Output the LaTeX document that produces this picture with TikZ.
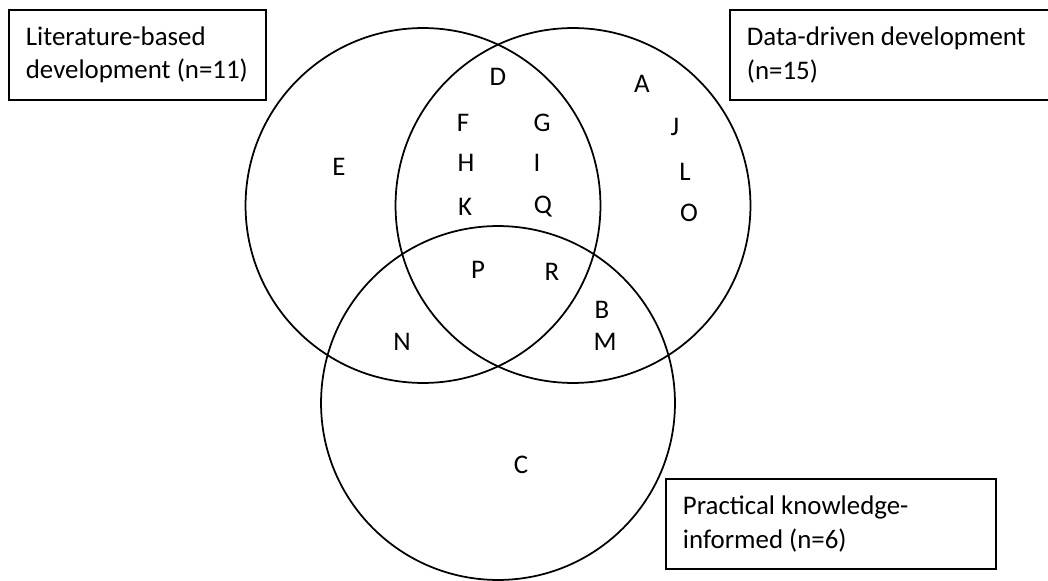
\documentclass[tikz,border=0pt]{standalone}
\usepackage{fontspec}
\setmainfont{Carlito}
\usepackage{tikz}

\begin{document}
\begin{tikzpicture}[x=0.02cm, y=-0.02cm, line width=1pt,
    letter/.style={font=\fontsize{15.3}{19}\selectfont},
    group/.style={draw, anchor=north west, align=flush left, inner xsep=0.34cm,
        minimum height=1.8cm, font=\fontsize{15.3}{19}\selectfont}]
    \useasboundingbox (0,0) rectangle (1048,581);
    % the three sets
    \draw (423,205.5) circle (3.55cm);
    \draw (573,205.5) circle (3.55cm);
    \draw (498,403) circle (3.54cm);
    % set labels
    \node[group, text width=4.46cm] (lit) at (8,9) {Literature-based\\development (n=11)};
    \node[group, text width=6.4cm] (data) at (729,9) {Data-driven development\\(n=15)};
    \node[group, text width=5.92cm] (prac) at (665,478) {Practical knowledge-\\informed (n=6)};
    % studies
    \node[letter] (D) at (498,77) {D};
    \node[letter] (A) at (642,84) {A};
    \node[letter] (F) at (463,123) {F};
    \node[letter] (G) at (542,123) {G};
    \node[letter] (J) at (675,127) {J};
    \node[letter] (E) at (339,167) {E};
    \node[letter] (H) at (466,163) {H};
    \node[letter] (I) at (537,163) {I};
    \node[letter] (L) at (685,172) {L};
    \node[letter] (K) at (465,207) {K};
    \node[letter] (Q) at (543,207) {Q};
    \node[letter] (O) at (689,213) {O};
    \node[letter] (P) at (478,270) {P};
    \node[letter] (R) at (552,272) {R};
    \node[letter] (B) at (602,310) {B};
    \node[letter] (N) at (402,342) {N};
    \node[letter] (M) at (605,342) {M};
    \node[letter] (C) at (521,465) {C};
\end{tikzpicture}
\end{document}
